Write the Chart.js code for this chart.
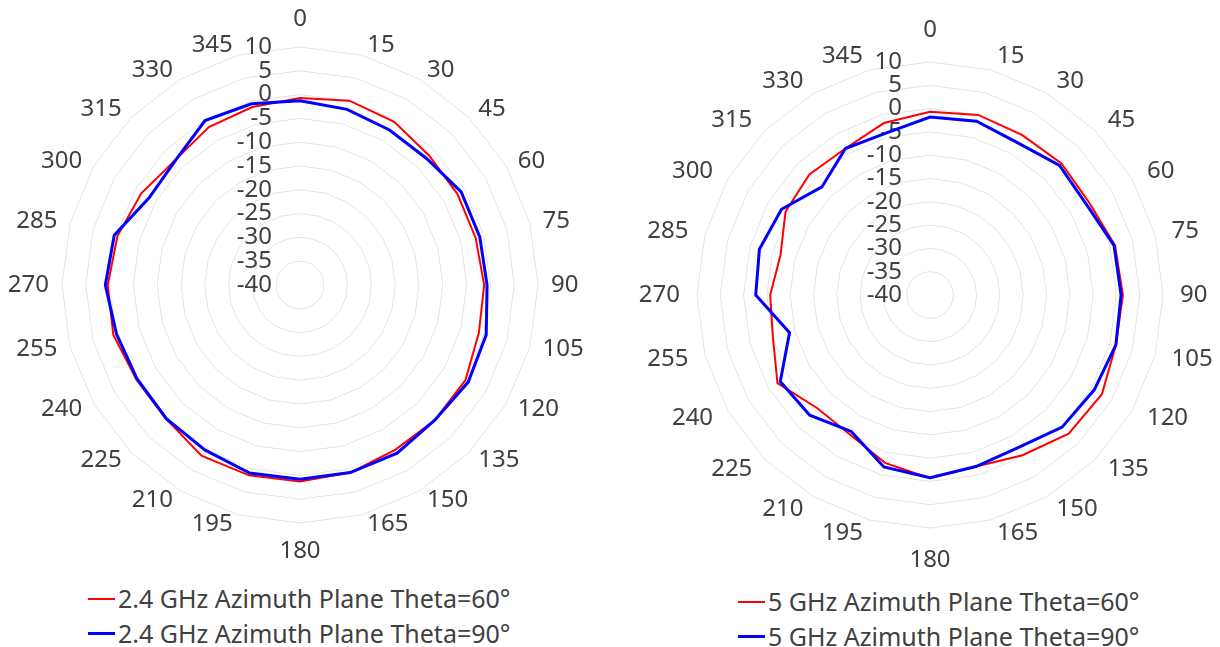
<!DOCTYPE html>
<html>
<head>
<meta charset="utf-8">
<script src="https://cdn.jsdelivr.net/npm/chart.js@4.4.1/dist/chart.umd.min.js"></script>
<style>
  html, body { margin: 0; padding: 0; background: #fff; }
  body { width: 1220px; height: 647px; position: relative; overflow: hidden; font-family: "Noto Sans", sans-serif; }
  canvas { position: absolute; top: 0; }
  #c1 { left: 0; }
  #c2 { left: 610px; }
  .row { position: absolute; white-space: nowrap; display: flex; align-items: center; font-size: 25px; line-height: 25px; color: #404040; }
  .swatch { display: inline-block; width: 27px; margin-right: 3px; }
</style>
</head>
<body>
<canvas id="c1" width="610" height="580"></canvas>
<canvas id="c2" width="610" height="580"></canvas>
<script>
// azimuth angles (deg)
var angles = ['0', '15', '30', '45', '60', '75', '90', '105', '120', '135', '150', '165',
              '180', '195', '210', '225', '240', '255', '270', '285', '300', '315', '330', '345'];

// radial tick labels (dB)
var tickValues = [10, 5, 0, -5, -10, -15, -20, -25, -30, -35, -40];

var names24 = ['2.4 GHz Azimuth Plane Theta=60°', '2.4 GHz Azimuth Plane Theta=90°'];
var names5 = ['5 GHz Azimuth Plane Theta=60°', '5 GHz Azimuth Plane Theta=90°'];

// gain readings, dB
var gain24Theta60 = [-0.7, 0.1, -0.4, -1.6, -1.8, -1.8, -1.3, -1.1, 0.1, 0.1, 0.0, 0.8,
                     1.3, 1.4, 1.4, -0.2, -0.3, 0.6, 0.4, -0.3, -1.5, -2.9, -1.7, -1.3];
var gain24Theta90 = [-1.3, -1.8, -2.4, -2.4, -0.9, -0.9, -0.7, 0.5, 0.8, 0.1, 0.8, 0.8,
                     0.8, 0.9, 0.0, -0.3, -0.5, -0.1, 0.9, 0.4, -3.4, -3.0, -0.1, -0.6];
var gain5Theta60 = [-0.7, 0.0, -0.4, -0.1, -0.5, 1.1, 1.4, 1.3, 2.6, 2.1, -0.3, -1.9,
                    -0.7, -2.7, -5.5, -5.7, -2.2, -5.1, -5.7, -6.8, -4.2, -3.4, -3.7, -1.8];
var gain5Theta90 = [-1.8, -1.4, -2.3, -0.7, -1.2, 0.9, 1.0, 1.3, 0.7, 0.1, -2.2, -1.9,
                    -0.8, -1.8, -6.2, -3.5, -2.9, -8.8, -2.6, -2.1, -3.2, -7.2, -3.7, -4.0];

var lineColors = ['#ff0000', '#0000ff'];
var lineWidths = [2, 3];
var textColor = '#404040';
var labelFont = '24px "Noto Sans"';

// tick labels left of the vertical axis, angle labels vertically centred
// on their spoke (like the spreadsheet radar chart), all under the traces
var radarTextPlugin = {
  id: 'radarText',
  beforeDatasetsDraw: function(chart, args, opts) {
    var scale = chart.scales.r;
    var ctx = chart.ctx;
    ctx.save();
    ctx.font = labelFont;
    ctx.fillStyle = textColor;
    ctx.textBaseline = 'middle';

    ctx.textAlign = 'right';
    tickValues.forEach(function(v) {
      var y = scale.yCenter - scale.getDistanceFromCenterForValue(v);
      ctx.fillText(String(v), scale.xCenter - 28, y);
    });

    var dist = scale.drawingArea + opts.gap;
    angles.forEach(function(label, i) {
      var p = scale.getPointPosition(i, dist);
      var deg = Number(label);
      if (deg === 0 || deg === 180) {
        ctx.textAlign = 'center';
        ctx.fillText(label, p.x, deg === 0 ? p.y - 18 : p.y + 18);
      } else if (deg < 180) {
        ctx.textAlign = 'left';
        ctx.fillText(label, p.x + 3, p.y);
      } else {
        ctx.textAlign = 'right';
        ctx.fillText(label, p.x - 3, p.y);
      }
    });
    ctx.restore();
  }
};

function makeChart(id, names, series, padding, gap) {
  var datasets = series.map(function(values, i) {
    return {
      label: names[i],
      data: values,
      borderColor: lineColors[i],
      borderWidth: lineWidths[i],
      backgroundColor: 'transparent',
      fill: false,
      pointRadius: 0,
      tension: 0,
      order: 2 - i
    };
  });

  return new Chart(document.getElementById(id), {
    type: 'radar',
    data: { labels: angles, datasets: datasets },
    options: {
      responsive: false,
      animation: false,
      layout: { padding: padding },
      plugins: {
        legend: { display: false },
        tooltip: { enabled: false },
        radarText: { gap: gap }
      },
      scales: {
        r: {
          min: -40,
          max: 10,
          ticks: { stepSize: 5, display: false },
          grid: { color: '#e4e4e4', lineWidth: 1 },
          angleLines: { display: false },
          pointLabels: { display: false }
        }
      }
    },
    plugins: [radarTextPlugin]
  });
}

function makeLegend(names, x, rowsY) {
  names.forEach(function(name, i) {
    var row = document.createElement('div');
    row.className = 'row';
    row.style.left = x + 'px';
    row.style.top = (rowsY[i] - 13) + 'px';
    var sw = document.createElement('span');
    sw.className = 'swatch';
    sw.style.height = lineWidths[i] + 'px';
    sw.style.background = lineColors[i];
    row.appendChild(sw);
    row.appendChild(document.createTextNode(name));
    document.body.appendChild(row);
  });
}

makeChart('c1', names24, [gain24Theta60, gain24Theta90], {left: 62, right: 72, top: 47, bottom: 57}, 10);
makeChart('c2', names5, [gain5Theta60, gain5Theta90], {left: 87, right: 57, top: 62, bottom: 52}, 14);

makeLegend(names24, 88, [599, 634]);
makeLegend(names5, 738, [602, 637]);
</script>
</body>
</html>
